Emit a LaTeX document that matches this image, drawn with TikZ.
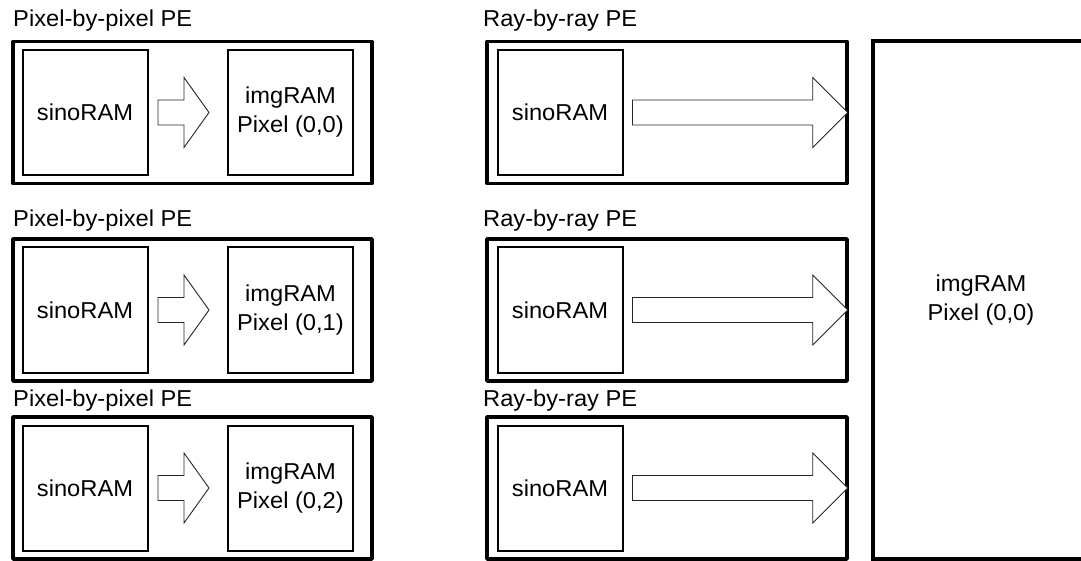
\documentclass[tikz,border=0pt]{standalone}
\usepackage{fontspec}
\setmainfont[FakeStretch=1.03]{Liberation Sans}
\usetikzlibrary{calc}
\newcommand\fatarrow[3]{%
  \draw[arrowline] let \p1=(#1), \p2=(#2) in
    (\x1,\y1+12.5pt) -- (\x2-#3,\y1+12.5pt) -- (\x2-#3,\y1+35pt) -- (\x2,\y1)
    -- (\x2-#3,\y1-35pt) -- (\x2-#3,\y1-12.5pt) -- (\x1,\y1-12.5pt) -- cycle;}
\begin{document}
\begin{tikzpicture}[x=1pt,y=-1pt,
  every node/.style={font=\fontsize{23}{29}\selectfont},
  pebox/.style={draw,line width=3.5pt,line join=round,inner sep=0pt,minimum height=142pt},
  leftpe/.style={pebox,minimum width=359pt},
  rightpe/.style={pebox,minimum width=360pt},
  rambox/.style={draw,line width=2pt,inner sep=0pt,minimum width=125pt,minimum height=125pt,align=center},
  bigbox/.style={draw,line width=4pt,inner sep=0pt,minimum width=216pt,minimum height=518pt,align=center},
  petitle/.style={anchor=base west,inner sep=0pt},
  arrowline/.style={draw=black!85,line width=0.9pt,fill=white,line join=miter}]
\useasboundingbox (0,0) rectangle (1081,561);
\begin{scope}
\clip (0,0) rectangle (1081,561);
% left column
\node[petitle] (tl1) at (13,27) {Pixel-by-pixel PE};
\node[petitle] (tl2) at (13,227) {Pixel-by-pixel PE};
\node[petitle] (tl3) at (13,406) {Pixel-by-pixel PE};
\node[leftpe] (L1) at (192.5,112.5) {};
\node[leftpe] (L2) at (192.5,310) {};
\node[leftpe] (L3) at (192.5,488) {};
\node[rambox] (s1) at (85,112.5) {sinoRAM};
\node[rambox] (s2) at (85,310) {sinoRAM};
\node[rambox] (s3) at (85,488) {sinoRAM};
\node[rambox] (i1) at (290.5,112.5) {imgRAM\\Pixel (0,0)};
\node[rambox] (i2) at (290.5,310) {imgRAM\\Pixel (0,1)};
\node[rambox] (i3) at (290.5,488) {imgRAM\\Pixel (0,2)};
\fatarrow{$(s1.east)+(9.5,0)$}{$(i1.west)+(-18,0)$}{25pt}
\fatarrow{$(s2.east)+(9.5,0)$}{$(i2.west)+(-18,0)$}{25pt}
\fatarrow{$(s3.east)+(9.5,0)$}{$(i3.west)+(-18,0)$}{25pt}
% right column
\node[petitle] (tr1) at (483,27) {Ray-by-ray PE};
\node[petitle] (tr2) at (483,227) {Ray-by-ray PE};
\node[petitle] (tr3) at (483,406) {Ray-by-ray PE};
\node[rightpe] (R1) at (667,112.5) {};
\node[rightpe] (R2) at (667,310) {};
\node[rightpe] (R3) at (667,488) {};
\node[rambox] (r1) at (560,112.5) {sinoRAM};
\node[rambox] (r2) at (560,310) {sinoRAM};
\node[rambox] (r3) at (560,488) {sinoRAM};
\fatarrow{$(r1.east)+(9,0)$}{$(R1.east)+(-1,0)$}{35pt}
\fatarrow{$(r2.east)+(9,0)$}{$(R2.east)+(-1,0)$}{35pt}
\fatarrow{$(r3.east)+(9,0)$}{$(R3.east)+(-1,0)$}{35pt}
% shared image RAM
\node[bigbox] (big) at (981,300) {imgRAM\\Pixel (0,0)};
\end{scope}
\end{tikzpicture}
\end{document}
